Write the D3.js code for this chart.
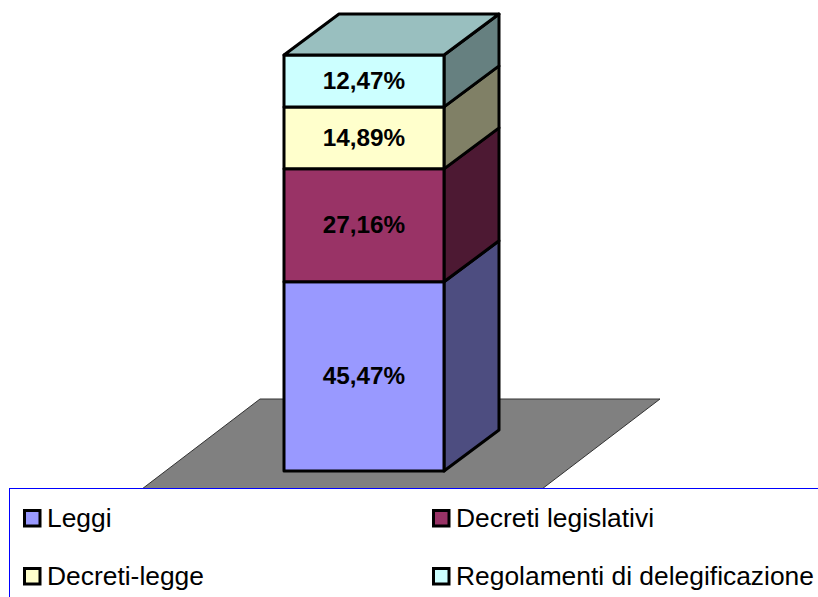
<!DOCTYPE html>
<html>
<head>
<meta charset="utf-8">
<style>
html,body{margin:0;padding:0;background:#fff;overflow:hidden}
svg{display:block}
text{font-family:"Liberation Sans",Arial,sans-serif;fill:#000}
</style>
<script src="https://cdn.jsdelivr.net/npm/d3@7"></script>
</head>
<body>
<svg id="chart" width="818" height="597"></svg>
<script>
const categories = ["Leggi", "Decreti legislativi", "Decreti-legge", "Regolamenti di delegificazione"];
const values = [45.47, 27.16, 14.89, 12.47];
const valueLabels = ["45,47%", "27,16%", "14,89%", "12,47%"];
const frontColors = ["#9999ff", "#993366", "#ffffcc", "#ccffff"];
const sideColors = ["#4d4d80", "#4d1933", "#808066", "#668080"];
const topColor = "#99bfbf";

const svg = d3.select("#chart");
const W = 818, H = 597;

// Column geometry: value axis runs bottom to top, oblique depth goes up and right
const total = d3.sum(values);
const y = d3.scaleLinear().domain([0, total]).range([471, 55]);
const x = d3.scaleBand().domain(["totale"]).range([284, 444]);
const depthX = 55, depthY = -41;

const stacked = d3.stack().keys(categories.map((_, i) => i)).value((d, k) => d[k])([values]);
const segs = stacked.map((s, i) => ({ i, y0: s[0][0], y1: s[0][1] }));
const x0 = x("totale"), x1 = x0 + x.bandwidth();
const poly = pts => d3.line()(pts) + "Z";

// Floor plane beneath the column
const floor = { backY: 399, frontY: 560, backL: 260, backR: 660, slope: 118 / 90 };
const shift = (floor.frontY - floor.backY) * floor.slope;
svg.append("path")
  .attr("d", poly([
    [floor.backL, floor.backY], [floor.backR, floor.backY],
    [floor.backR - shift, floor.frontY], [floor.backL - shift, floor.frontY]
  ]))
  .attr("fill", "#808080").attr("stroke", "#333").attr("stroke-width", 1);

const chartG = svg.append("g")
  .attr("stroke", "#000").attr("stroke-width", 3).attr("stroke-linejoin", "round");

// Side faces
chartG.selectAll(".side").data(segs).join("path").attr("class", "side")
  .attr("fill", d => sideColors[d.i])
  .attr("d", d => poly([
    [x1, y(d.y0)], [x1 + depthX, y(d.y0) + depthY],
    [x1 + depthX, y(d.y1) + depthY], [x1, y(d.y1)]
  ]));

// Front faces
chartG.selectAll(".front").data(segs).join("rect").attr("class", "front")
  .attr("x", x0).attr("width", x.bandwidth())
  .attr("y", d => y(d.y1)).attr("height", d => y(d.y0) - y(d.y1))
  .attr("fill", d => frontColors[d.i]);

// Lid of the topmost segment
chartG.append("path")
  .attr("fill", topColor)
  .attr("d", poly([
    [x0, y(total)], [x0 + depthX, y(total) + depthY],
    [x1 + depthX, y(total) + depthY], [x1, y(total)]
  ]));

// Percentage labels centred on each front face
svg.selectAll(".val").data(segs).join("text").attr("class", "val")
  .attr("x", (x0 + x1) / 2)
  .attr("y", d => (y(d.y0) + y(d.y1)) / 2 + 8)
  .attr("text-anchor", "middle")
  .attr("font-size", 24.3).attr("font-weight", "bold")
  .text(d => valueLabels[d.i]);

// Legend panel
svg.append("rect")
  .attr("x", 9.5).attr("y", 488.5).attr("width", W + 20).attr("height", H)
  .attr("fill", "#fff").attr("stroke", "#0000ff").attr("stroke-width", 1);

const colX = d3.scaleOrdinal().domain([0, 1]).range([23, 432]);
const rowY = d3.scaleOrdinal().domain([0, 1]).range([509, 567]);
const legend = svg.selectAll(".legend").data(categories).join("g").attr("class", "legend")
  .attr("transform", (d, i) => `translate(${colX(i % 2)},${rowY(Math.floor(i / 2))})`);
legend.append("rect")
  .attr("x", 1.5).attr("y", 1.5).attr("width", 15.5).attr("height", 15.5)
  .attr("fill", (d, i) => frontColors[i])
  .attr("stroke", "#000").attr("stroke-width", 3);
legend.append("text")
  .attr("x", 24).attr("y", 18)
  .attr("font-size", 26.4)
  .text(d => d);
</script>
</body>
</html>
